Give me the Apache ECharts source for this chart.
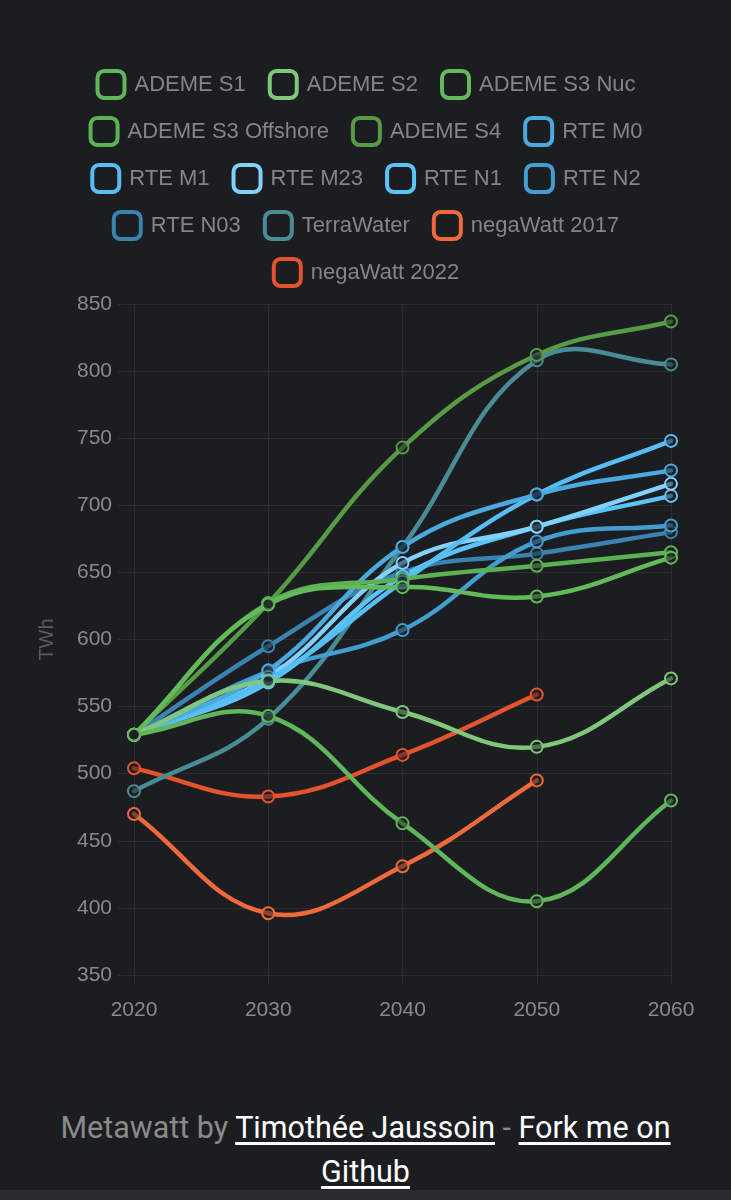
<!DOCTYPE html>
<html>
<head>
<meta charset="utf-8">
<script src="https://cdn.jsdelivr.net/npm/echarts@6/dist/echarts.min.js"></script>
<style>
  html, body { margin: 0; padding: 0; background: #1b1d21; }
  #chart { position: absolute; left: 0; top: 0; width: 731px; height: 1060px; }
  #footer {
    position: absolute; left: 45px; top: 1106px; width: 641px;
    text-align: center; font-family: Roboto, "Liberation Sans", sans-serif;
    font-size: 30.5px; line-height: 44px; color: #8a8a8a;
  }
  #footer a { color: #ffffff; text-decoration: underline; text-underline-offset: 4px; }
  #strip { position: absolute; left: 0; top: 1190px; width: 731px; height: 10px; background: #2a2c31; }
</style>
</head>
<body>
<div id="chart"></div>
<div id="footer">Metawatt by <a>Timothée Jaussoin</a> - <a>Fork me on Github</a></div>
<div id="strip"></div>
<script>
var years = ['2020', '2030', '2040', '2050', '2060'];

var ademeS1 = [529, 543, 463, 405, 480];
var ademeS2 = [529, 569, 546, 520, 571];
var ademeS3Nuc = [529, 626, 639, 632, 661];
var ademeS3Offshore = [529, 627, 645, 655, 665];
var ademeS4 = [529, 627, 743, 812, 837];
var rteM0 = [529, 577, 669, 708, 726];
var rteM1 = [529, 570, 643, 708, 748];
var rteM23 = [529, 572, 657, 684, 716];
var rteN1 = [529, 568, 647, 684, 707];
var rteN2 = [529, 576, 607, 673, 685];
var rteN03 = [529, 595, 650, 664, 680];
var terraWater = [487, 541, 669, 808, 805];
var negaWatt2017 = [470, 396, 431, 495, null];
var negaWatt2022 = [504, 483, 514, 559, null];

var names = ['ADEME S1', 'ADEME S2', 'ADEME S3 Nuc', 'ADEME S3 Offshore', 'ADEME S4',
    'RTE M0', 'RTE M1', 'RTE M23', 'RTE N1', 'RTE N2', 'RTE N03',
    'TerraWater', 'negaWatt 2017', 'negaWatt 2022'];
var values = [ademeS1, ademeS2, ademeS3Nuc, ademeS3Offshore, ademeS4,
    rteM0, rteM1, rteM23, rteN1, rteN2, rteN03,
    terraWater, negaWatt2017, negaWatt2022];
var colors = ['#60b65a', '#80c77c', '#63ba5a', '#5cb153', '#589b46',
    '#4aa9de', '#56bdf5', '#80d1fb', '#5cc3f7', '#439dd0', '#3a83ae',
    '#4a8c96', '#f0693a', '#e4532b'];

// legend rows, centred one by one like the original
var legendRows = [
    ['ADEME S1', 'ADEME S2', 'ADEME S3 Nuc'],
    ['ADEME S3 Offshore', 'ADEME S4', 'RTE M0'],
    ['RTE M1', 'RTE M23', 'RTE N1', 'RTE N2'],
    ['RTE N03', 'TerraWater', 'negaWatt 2017'],
    ['negaWatt 2022']
];

var bg = '#1b1d21';
var gridColor = '#2b2d31';
var TENSION = 0.4;
var LINE_W = 4.5;

function dist(a, b) {
    return Math.sqrt((a[0] - b[0]) * (a[0] - b[0]) + (a[1] - b[1]) * (a[1] - b[1]));
}

// same spline as the original chart (control points are not clamped)
function controlPoints(pts, i) {
    var cur = pts[i];
    var prev = (i > 0 && pts[i - 1]) ? pts[i - 1] : cur;
    var next = (i < pts.length - 1 && pts[i + 1]) ? pts[i + 1] : cur;
    var d01 = dist(cur, prev);
    var d12 = dist(next, cur);
    var s01 = d01 / (d01 + d12);
    var s12 = d12 / (d01 + d12);
    if (isNaN(s01)) s01 = 0;
    if (isNaN(s12)) s12 = 0;
    var fa = TENSION * s01;
    var fb = TENSION * s12;
    return {
        prev: [cur[0] - fa * (next[0] - prev[0]), cur[1] - fa * (next[1] - prev[1])],
        next: [cur[0] + fb * (next[0] - prev[0]), cur[1] + fb * (next[1] - prev[1])]
    };
}

function makeCurve(name, color, data) {
    var segs = [];
    for (var k = 0; k < data.length - 1; k++) {
        if (data[k] != null && data[k + 1] != null) segs.push([k, data[k]]);
    }
    return {
        name: name,
        type: 'custom',
        coordinateSystem: 'cartesian2d',
        z: 2,
        silent: true,
        itemStyle: { color: color },
        encode: { x: 0, y: 1 },
        data: segs,
        renderItem: function (params, api) {
            var k = api.value(0);
            var pts = [];
            for (var j = 0; j < data.length; j++) {
                pts.push(data[j] == null ? null : api.coord([j, data[j]]));
            }
            var a = controlPoints(pts, k);
            var b = controlPoints(pts, k + 1);
            return {
                type: 'bezierCurve',
                shape: {
                    x1: pts[k][0], y1: pts[k][1],
                    x2: pts[k + 1][0], y2: pts[k + 1][1],
                    cpx1: a.next[0], cpy1: a.next[1],
                    cpx2: b.prev[0], cpy2: b.prev[1]
                },
                style: { stroke: color, lineWidth: LINE_W, fill: null, lineCap: 'round' }
            };
        }
    };
}

function makePoints(name, color, data) {
    return {
        name: name,
        type: 'line',
        data: data,
        z: 3,
        symbol: 'circle',
        symbolSize: 12,
        showSymbol: true,
        lineStyle: { color: color, width: 0 },
        itemStyle: { color: 'rgba(27,29,33,0.5)', borderColor: color, borderWidth: 2 },
        emphasis: { disabled: true }
    };
}

// first dataset drawn on top, as in the original
var series = [];
for (var i = names.length - 1; i >= 0; i--) {
    series.push(makePoints(names[i], colors[i], values[i]));
}
for (var i = names.length - 1; i >= 0; i--) {
    series.push(makeCurve(names[i], colors[i], values[i]));
}

var legends = [];
for (var r = 0; r < legendRows.length; r++) {
    legends.push({
        data: legendRows[r],
        top: 64 + r * 47,
        left: 'center',
        icon: 'roundRect',
        itemWidth: 27,
        itemHeight: 27,
        itemGap: 22,
        itemStyle: { color: bg, borderWidth: 4 },
        textStyle: { color: '#858585', fontSize: 22, fontFamily: 'Liberation Sans', padding: [0, 0, 0, 5] },
        selectedMode: false
    });
}

var chart = echarts.init(document.getElementById('chart'));
chart.setOption({
    backgroundColor: bg,
    animation: false,
    color: colors,
    legend: legends,
    grid: { left: 134, right: 60, top: 304, bottom: 85, containLabel: false },
    xAxis: {
        type: 'category',
        data: years,
        boundaryGap: false,
        axisLine: { lineStyle: { color: gridColor, width: 1 } },
        axisTick: { show: true, length: 10, lineStyle: { color: gridColor } },
        axisLabel: { color: '#8a8a8a', fontSize: 21, margin: 25, fontFamily: 'Liberation Sans' },
        splitLine: { show: true, lineStyle: { color: gridColor, width: 1 } }
    },
    yAxis: {
        type: 'value',
        min: 350,
        max: 850,
        interval: 50,
        name: 'TWh',
        nameLocation: 'middle',
        nameGap: 77,
        nameTextStyle: { color: '#5b5b5b', fontSize: 20, fontFamily: 'Liberation Sans' },
        axisLine: { show: true, lineStyle: { color: gridColor, width: 1 } },
        axisTick: { show: true, length: 16, lineStyle: { color: gridColor } },
        axisLabel: { color: '#8a8a8a', fontSize: 21, margin: 22, fontFamily: 'Liberation Sans' },
        splitLine: { show: true, lineStyle: { color: gridColor, width: 1 } }
    },
    series: series
});
</script>
</body>
</html>
